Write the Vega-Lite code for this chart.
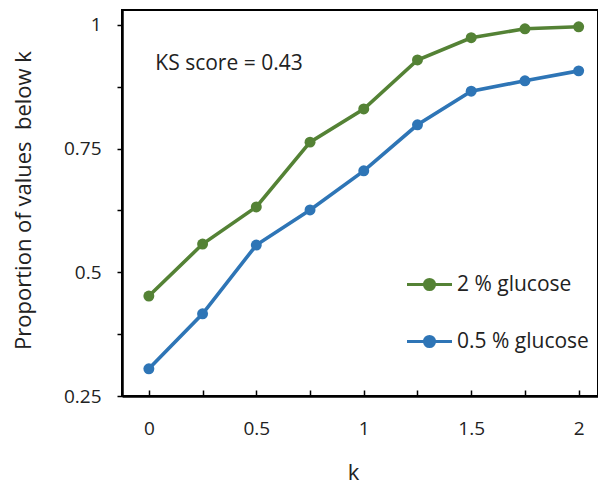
{
  "$schema": "https://vega.github.io/schema/vega-lite/v6.json",
  "width": 476,
  "height": 386,
  "autosize": {"type": "none"},
  "padding": {"left": 122, "top": 10, "right": 0, "bottom": 89},
  "background": "white",
  "config": {
    "font": "Open Sans",
    "view": {"stroke": "black", "strokeWidth": 2},
    "axis": {"grid": false, "domainColor": "black", "domainWidth": 2.5, "tickColor": "black", "tickWidth": 1.5, "labelColor": "#222222", "titleColor": "#222222", "labelFontSize": 19, "titleFontSize": 22, "titleFontWeight": "normal", "labelFont": "Open Sans", "titleFont": "Open Sans"}
  },
  "data": {
    "values": [
      {"k": 0, "p": 0.452, "series": "2 % glucose"},
      {"k": 0.25, "p": 0.557, "series": "2 % glucose"},
      {"k": 0.5, "p": 0.632, "series": "2 % glucose"},
      {"k": 0.75, "p": 0.763, "series": "2 % glucose"},
      {"k": 1, "p": 0.830, "series": "2 % glucose"},
      {"k": 1.25, "p": 0.929, "series": "2 % glucose"},
      {"k": 1.5, "p": 0.974, "series": "2 % glucose"},
      {"k": 1.75, "p": 0.992, "series": "2 % glucose"},
      {"k": 2, "p": 0.996, "series": "2 % glucose"},
      {"k": 0, "p": 0.305, "series": "0.5 % glucose"},
      {"k": 0.25, "p": 0.416, "series": "0.5 % glucose"},
      {"k": 0.5, "p": 0.555, "series": "0.5 % glucose"},
      {"k": 0.75, "p": 0.626, "series": "0.5 % glucose"},
      {"k": 1, "p": 0.705, "series": "0.5 % glucose"},
      {"k": 1.25, "p": 0.798, "series": "0.5 % glucose"},
      {"k": 1.5, "p": 0.866, "series": "0.5 % glucose"},
      {"k": 1.75, "p": 0.887, "series": "0.5 % glucose"},
      {"k": 2, "p": 0.907, "series": "0.5 % glucose"}
    ]
  },
  "layer": [
    {
      "mark": {"type": "line", "strokeWidth": 3.6, "point": {"size": 120, "filled": true, "opacity": 1}},
      "encoding": {
        "x": {
          "field": "k", "type": "quantitative",
          "scale": {"domain": [-0.125, 2.09], "nice": false, "zero": false},
          "axis": {
            "title": "k",
            "values": [0, 0.125, 0.25, 0.375, 0.5, 0.625, 0.75, 0.875, 1, 1.125, 1.25, 1.375, 1.5, 1.625, 1.75, 1.875, 2],
            "labelExpr": "datum.value % 0.5 == 0 ? format(datum.value, '~g') : ''",
            "tickSize": -6,
            "labelPadding": 29,
            "titlePadding": 24,
            "titleX": 231,
            "labelFlush": false
          }
        },
        "y": {
          "field": "p", "type": "quantitative",
          "scale": {"domain": [0.25, 1.03], "nice": false, "zero": false},
          "axis": {
            "title": "Proportion of values\u00a0 below k",
            "values": [0.25, 0.375, 0.5, 0.625, 0.75, 0.875, 1],
            "labelExpr": "datum.value % 0.25 == 0 ? format(datum.value, '~g') : ''",
            "tickSize": 5,
            "labelPadding": 16,
            "titlePadding": 28,
            "titleY": 190,
            "labelFlush": false
          }
        },
        "color": {
          "field": "series", "type": "nominal",
          "scale": {"domain": ["2 % glucose", "0.5 % glucose"], "range": ["#548235", "#2E75B6"]},
          "legend": {
            "title": null,
            "orient": "none",
            "legendX": 283,
            "legendY": 250,
            "symbolType": "M-1,0H1M-0.22,0A0.22,0.22,0,1,1,0.22,0A0.22,0.22,0,1,1,-0.22,0",
            "symbolSize": 2025,
            "symbolStrokeWidth": 3.2,
            "labelFontSize": 21,
            "labelFont": "Open Sans",
            "labelColor": "#222222",
            "labelOffset": 3,
            "rowPadding": 21,
            "encode": {"symbols": {"update": {"fill": {"scale": "color", "field": "value"}, "stroke": {"scale": "color", "field": "value"}, "opacity": {"value": 1}}}}
          }
        }
      }
    },
    {
      "data": {"values": [{}]},
      "mark": {"type": "text", "align": "left", "baseline": "middle", "fontSize": 21, "font": "Open Sans", "color": "#222222"},
      "encoding": {
        "x": {"datum": 0.03},
        "y": {"datum": 0.92},
        "text": {"value": "KS score = 0.43"}
      }
    }
  ]
}
